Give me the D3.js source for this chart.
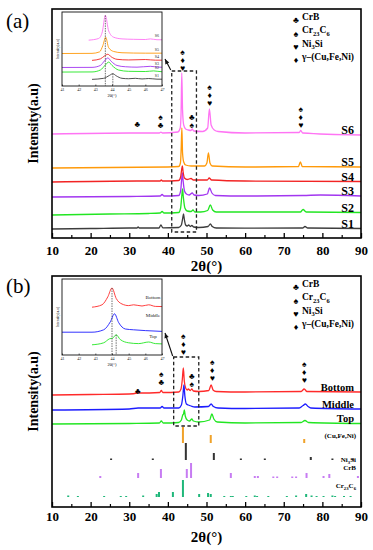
<!DOCTYPE html>
<html>
<head>
<meta charset="utf-8">
<script src="https://cdn.jsdelivr.net/npm/d3@7/dist/d3.min.js"></script>
<style>
  body { margin: 0; background: #fff; }
  svg { display: block; }
  text { font-family: 'Liberation Serif', 'Times New Roman', serif; }
</style>
</head>
<body>
<svg id="chart" width="373" height="550"></svg>
<script>
const xTicks = [10, 20, 30, 40, 50, 60, 70, 80, 90]
const xMinorTicks = [15, 25, 35, 45, 55, 65, 75, 85]
const insetTicks = [41, 42, 43, 44, 45, 46, 47]

const legendSymbols = ['♣', '♠', '♥', '♦']
const legendNames = ['CrB', 'Cr_{23}C_{6}', 'Ni_{3}Si', 'γ–(Cu,Fe,Ni)']

// panel (a): S1..S6, [2θ, intensity above its own baseline]
const seriesNamesA = ['S1', 'S2', 'S3', 'S4', 'S5', 'S6']
const seriesColorsA = ['#3d3d3d', '#22e622', '#a236f0', '#f22424', '#ff9a0a', '#ff74f4']
const stackOffsetA = [9, 23, 41, 56, 70, 104]
const insetOffsetA = [6, 13, 18, 25, 32, 45]

const s1 = [[10, 0], [20, 0.5], [30, 1], [32, 1], [32.3, 2], [32.6, 1], [37.7, 1], [38.2, 4], [38.7, 1.2],
  [42.8, 1.5], [43.5, 4], [43.85, 11], [44.05, 15], [44.25, 10], [44.6, 4], [45, 3], [45.4, 4], [45.8, 2.5],
  [46.2, 3.5], [46.7, 2], [48, 1.5], [50.4, 2.5], [51, 5], [51.5, 2.5], [52.5, 1], [60, 0.8], [74.9, 1],
  [75.5, 2.5], [76.2, 1], [90, 0.5]]
const s2 = [[10, 0], [25, 1], [35, 1.5], [38, 2], [38.5, 3.5], [39, 2], [42.8, 2.5], [43.3, 7], [43.6, 19],
  [43.8, 26], [44, 18], [44.4, 7], [45, 4], [46, 3.5], [46.5, 5], [47, 3], [48.5, 3], [50.3, 4.5], [51, 10],
  [51.6, 5], [52.5, 3], [60, 3], [74.3, 3], [75, 5.5], [75.8, 3], [90, 2.5]]
const s3 = [[10, 0], [30, 0.5], [38, 1], [38.5, 2.5], [39, 1], [42.8, 1.5], [43.3, 6], [43.55, 17], [43.75, 24],
  [43.95, 16], [44.3, 6], [44.8, 3], [45.5, 2], [46.3, 4], [46.8, 2], [48, 1.5], [50.2, 3], [50.8, 9], [51.4, 4],
  [52.3, 1.5], [60, 1], [75, 1.5], [79.5, 2], [90, 1]]
const s4 = [[10, 0], [32, 1], [38, 1], [38.3, 2], [38.6, 1], [42.8, 1.5], [43.3, 5], [43.55, 12], [43.75, 16],
  [43.95, 10], [44.3, 4], [45, 2.5], [46, 3.5], [46.6, 2], [47.5, 2], [50.2, 2], [50.7, 4], [51.3, 2], [60, 1],
  [90, 0.5]]
const s5 = [[10, 0], [40, 1], [42.8, 1.5], [43.25, 5], [43.45, 20], [43.62, 40], [43.8, 15], [44.1, 6], [44.6, 3],
  [46, 2], [49.5, 2], [50.1, 5], [50.5, 15], [50.9, 5], [51.5, 2], [60, 1], [73.8, 1.5], [74.3, 6], [74.8, 1.5],
  [90, 1]]
const s6 = [[10, 0], [30, 1], [37.8, 1], [38.2, 1.8], [38.6, 1], [42.6, 2], [43.2, 6], [43.42, 22], [43.6, 61],
  [43.8, 24], [44.1, 9], [44.6, 5], [45.3, 4], [46, 3.5], [46.3, 5], [46.7, 3], [49, 2.5], [50.3, 6], [50.75, 25],
  [51.2, 9], [52, 4], [53, 2.5], [60, 1], [74, 1.5], [74.4, 3.5], [74.9, 1], [90, -1]]
const seriesA = [s1, s2, s3, s4, s5, s6]

// phase marks above the peaks: 2θ, height of lowest symbol, symbols top to bottom
const peakMarksA = [
  { t: 32.1, v: 114, s: ['♣'] },
  { t: 38.1, v: 113, s: ['♠', '♣'] },
  { t: 43.8, v: 170, s: ['♠', '♦', '♥'] },
  { t: 46.2, v: 113, s: ['♣', '♠'] },
  { t: 50.8, v: 135, s: ['♠', '♦', '♥'] },
  { t: 74.4, v: 113, s: ['♠', '♦', '♥'] }
]

// panel (b): Bottom, Middle, Top
const seriesNamesB = ['Bottom', 'Middle', 'Top']
const seriesColorsB = ['#ff2a2a', '#1c1cff', '#22e622']
const stackOffsetB = [114, 98, 83]
const insetOffsetB = [47, 22, 9]

const bottomPat = [[10, -2], [20, -1.5], [30, -1], [32, 0], [32.3, 1.5], [32.6, 0], [37.9, 0.5], [38.3, 2.5],
  [38.7, 0.5], [42.8, 1], [43.4, 4], [43.75, 14], [44, 25], [44.25, 12], [44.6, 5], [45, 3], [45.3, 4],
  [45.8, 2.5], [46.2, 4], [46.6, 2], [48, 1.5], [50.6, 2.5], [51.2, 8], [51.7, 3], [52.5, 1.5], [60, 1],
  [74.5, 1.5], [75.3, 4], [76, 1.5], [90, 1]]
const middlePat = [[10, -1], [30, 0], [32.3, 1], [38, 1], [38.5, 2.5], [39, 1], [42.8, 1], [43.5, 4], [43.9, 14],
  [44.15, 24], [44.4, 13], [44.8, 5], [45.3, 4], [46, 3], [47, 2], [50.5, 2.5], [51.2, 5], [51.8, 2.5], [53, 1],
  [60, 0.5], [74, 1], [75, 3.5], [75.6, 5], [76.3, 2.5], [77, 1], [90, 0]]
const topPat = [[10, 0], [30, 0.5], [37.8, 1], [38.3, 3], [38.8, 1], [42.8, 1.5], [43.5, 4], [43.85, 9],
  [44.05, 10], [44.25, 14], [44.5, 8], [45, 4], [45.6, 3], [46.2, 5], [46.6, 3], [48, 2], [50.8, 4], [51.4, 10],
  [51.9, 5], [52.8, 2], [60, 1], [74.5, 1.5], [75.5, 3.5], [76.4, 1.5], [90, 0.5]]
const seriesB = [bottomPat, middlePat, topPat]

const peakMarksB = [
  { t: 32.2, v: 116, s: ['♣'] },
  { t: 38.3, v: 125, s: ['♠', '♣'] },
  { t: 44.0, v: 155, s: ['♠', '♦', '♥'] },
  { t: 46.2, v: 123, s: ['♣', '♠'] },
  { t: 51.5, v: 129, s: ['♠', '♦', '♥'] },
  { t: 75.3, v: 127, s: ['♠', '♦', '♥'] }
]

// reference stick patterns in panel (b)
const refNames = ['(Cu,Fe,Ni)', 'Ni_{3}Si', 'CrB', 'Cr_{23}C_{6}']
const refColors = ['#f0a22a', '#333333', '#c77cf2', '#1fb77a']
const refBase = [64, 47, 29, 10]
const cuFeNiSticks = [[43.9, 16], [51.1, 8], [75.3, 4]]
const ni3SiSticks = [[25.3, 1.5], [36.1, 1.5], [44.65, 17], [51.9, 7], [58.9, 1.5], [65.1, 1.5], [77, 3],
  [82.6, 1.5], [87.9, 1.5]]
const crBSticks = [[22.5, 2], [32.3, 5], [38.2, 9], [44.9, 9], [46, 15], [56.3, 5], [62.5, 2], [63.3, 2],
  [67.3, 1.5], [68.3, 1.5], [72.2, 1.5], [73.2, 1.5], [75.9, 5], [80.3, 2], [81.8, 4], [89.2, 2]]
const cr23C6Sticks = [[14.2, 1.5], [16.7, 1], [23.5, 1], [27.8, 1], [29.2, 1], [33.6, 1.5], [37.1, 3], [37.7, 5],
  [41.3, 5], [43.9, 17], [48.1, 3], [50.4, 4], [51.1, 3], [54.6, 1], [56.3, 1], [56.8, 1], [60.3, 1], [62.5, 1.5],
  [63.1, 1], [66, 1], [70.8, 1], [73.2, 1.5], [75.8, 3], [77.2, 1.5], [78.5, 1], [80.3, 1], [82.6, 1.5],
  [83.3, 1], [85.6, 1], [87.3, 1]]
const refSticks = [cuFeNiSticks, ni3SiSticks, crBSticks, cr23C6Sticks]

const panels = [
  {
    id: 'a', top: 9, bottom: 238, tag: '(a)', tagY: 21, tickPad: 8, titleY: 266, labelFont: 12,
    names: seriesNamesA, colors: seriesColorsA, offsets: stackOffsetA, data: seriesA, marks: peakMarksA,
    legendY: 20, zoomWin: [41.0, 47.4, 6, 167], arrowTip: [165, 59],
    inset: {
      x0: 62, x1: 162, top: 12, bottom: 86, offsets: insetOffsetA, gain: 0.42,
      labelX: 159, labelAnchor: 'end', labelLift: [2.5, 2.5, 2.5, 2.5, 2.5, 2.5], labelFont: 4,
      guides: [{ t: 43.6, s: 5 }, { t: 44.05, s: 0 }]
    }
  },
  {
    id: 'b', top: 276, bottom: 507, tag: '(b)', tagY: 286, tickPad: 5, titleY: 537, labelFont: 10.5,
    names: seriesNamesB, colors: seriesColorsB, offsets: stackOffsetB, data: seriesB, marks: peakMarksB,
    legendY: 287, zoomWin: [41.5, 48.0, 81, 150], arrowTip: [165, 333],
    inset: {
      x0: 62, x1: 162, top: 279, bottom: 355, offsets: insetOffsetB, gain: 0.8,
      labelX: 153, labelAnchor: 'middle', labelLift: [7, 14, 6], labelFont: 5,
      guides: [{ t: 44.0, s: 0 }, { t: 44.25, s: 2 }]
    },
    refs: true
  }
]

const svg = d3.select('#chart')
const x = d3.scaleLinear().domain([10, 90]).range([52, 361])

// text with _{...} subscripts
function richText(sel, str, size) {
  let shifted = false
  str.split(/(_\{[^}]*\})/).forEach((part) => {
    if (!part) return
    if (part.startsWith('_{')) {
      sel.append('tspan').attr('font-size', size * 0.68).attr('dy', shifted ? 0 : size * 0.28).text(part.slice(2, -1))
      shifted = true
    } else {
      sel.append('tspan').attr('dy', shifted ? -size * 0.28 : 0).text(part)
      shifted = false
    }
  })
}

function arrow(g, x1, y1, x2, y2) {
  g.append('line').attr('x1', x1).attr('y1', y1).attr('x2', x2).attr('y2', y2)
    .attr('stroke', '#111').attr('stroke-width', 1.1)
  const a = Math.atan2(y2 - y1, x2 - x1)
  const len = 5
  const w = 2.2
  const bx = x2 - len * Math.cos(a)
  const by = y2 - len * Math.sin(a)
  const pts = [[x2, y2], [bx + w * Math.sin(a), by - w * Math.cos(a)], [bx - w * Math.sin(a), by + w * Math.cos(a)]]
  g.append('polygon').attr('points', pts.map((p) => p.join(',')).join(' ')).attr('fill', '#111')
}

function drawPanel(p) {
  const y = d3.scaleLinear().domain([0, p.bottom - p.top]).range([p.bottom, p.top])
  const g = svg.append('g')
  const [x0, x1] = x.range()

  const line = (off) => d3.line()
    .x((d) => x(d[0]))
    .y((d) => y(off + d[1]))
    .curve(d3.curveMonotoneX)

  p.data.forEach((d, i) => {
    g.append('path')
      .datum(d)
      .attr('fill', 'none')
      .attr('stroke', p.colors[i])
      .attr('stroke-width', 1.3)
      .attr('d', line(p.offsets[i]))
    const last = d[d.length - 1]
    g.append('text')
      .attr('x', 354)
      .attr('y', y(p.offsets[i] + last[1]) - 5)
      .attr('dy', '0.35em')
      .attr('text-anchor', 'end')
      .attr('font-weight', 'bold')
      .attr('font-size', p.labelFont)
      .text(p.names[i])
  })

  if (p.refs) {
    refSticks.forEach((sticks, i) => {
      g.selectAll(null)
        .data(sticks)
        .join('rect')
        .attr('x', (d) => x(d[0]) - 1)
        .attr('width', 2)
        .attr('y', (d) => y(refBase[i] + d[1]))
        .attr('height', (d) => y(refBase[i]) - y(refBase[i] + d[1]))
        .attr('fill', refColors[i])
    })
    const refLift = [5, -2, 8, 9]
    refNames.forEach((name, i) => {
      const t = g.append('text')
        .attr('x', 356)
        .attr('y', y(refBase[i]) - refLift[i])
        .attr('dy', '0.35em')
        .attr('text-anchor', 'end')
        .attr('font-weight', 'bold')
        .attr('font-size', 7)
      richText(t, name, 7)
    })
  }

  // symbols over the peaks, one text per stack
  p.marks.forEach((m) => {
    const cx = x(m.t)
    const t = g.append('text')
      .attr('x', cx)
      .attr('y', y(m.v) - 8 * (m.s.length - 1))
      .attr('text-anchor', 'middle')
      .attr('font-family', 'DejaVu Sans')
      .attr('font-size', 8.5)
    m.s.forEach((sym, j) => {
      t.append('tspan')
        .attr('x', cx)
        .attr('dy', j === 0 ? '0.35em' : 8)
        .text(sym)
    })
  })

  // zoom window + arrow to the inset
  const w = p.zoomWin
  g.append('rect')
    .attr('x', x(w[0]))
    .attr('y', y(w[3]))
    .attr('width', x(w[1]) - x(w[0]))
    .attr('height', y(w[2]) - y(w[3]))
    .attr('fill', 'none')
    .attr('stroke', '#222')
    .attr('stroke-width', 1.3)
    .attr('stroke-dasharray', '3.5,2.5')
  arrow(g, x(w[0]) - 1, y(w[3]) - 1, p.arrowTip[0], p.arrowTip[1])

  // frame and axis
  g.append('rect')
    .attr('x', x0)
    .attr('y', p.top)
    .attr('width', x1 - x0)
    .attr('height', p.bottom - p.top)
    .attr('fill', 'none')
    .attr('stroke', '#000')
    .attr('stroke-width', 1.6)

  const axis = g.append('g')
    .attr('transform', `translate(0,${p.bottom})`)
    .call(d3.axisBottom(x).tickValues(xTicks).tickSize(-5).tickPadding(p.tickPad).tickFormat(d3.format('d')))
  axis.select('.domain').remove()
  axis.selectAll('line').attr('stroke-width', 1.3)
  axis.selectAll('text')
    .attr('font-family', "'Liberation Serif', serif")
    .attr('font-size', 13)
    .attr('font-weight', 'bold')
    .attr('fill', '#000')

  const minor = g.append('g')
    .attr('transform', `translate(0,${p.bottom})`)
    .call(d3.axisBottom(x).tickValues(xMinorTicks).tickSize(-3).tickFormat(''))
  minor.select('.domain').remove()
  minor.selectAll('line').attr('stroke-width', 1.2)

  g.append('text')
    .attr('x', (x0 + x1) / 2)
    .attr('y', p.titleY)
    .attr('dy', '0.35em')
    .attr('text-anchor', 'middle')
    .attr('font-weight', 'bold')
    .attr('font-size', 15)
    .text('2θ(°)')

  g.append('text')
    .attr('transform', `translate(33,${(p.top + p.bottom) / 2}) rotate(-90)`)
    .attr('dy', '0.35em')
    .attr('text-anchor', 'middle')
    .attr('font-weight', 'bold')
    .attr('font-size', 14)
    .text('Intensity(a.u)')

  g.append('text')
    .attr('x', 6)
    .attr('y', p.tagY)
    .attr('dy', '0.35em')
    .attr('font-size', 21)
    .text(p.tag)

  // legend
  legendSymbols.forEach((sym, i) => {
    const ly = p.legendY + i * 13.4
    g.append('text')
      .attr('x', 296)
      .attr('y', ly)
      .attr('dy', '0.35em')
      .attr('text-anchor', 'middle')
      .attr('font-family', 'DejaVu Sans')
      .attr('font-size', 9)
      .text(sym)
    const t = g.append('text')
      .attr('x', 302)
      .attr('y', ly)
      .attr('dy', '0.35em')
      .attr('font-weight', 'bold')
      .attr('font-size', 9.5)
    richText(t, legendNames[i], 9.5)
  })

  drawInset(g, p)
}

function drawInset(g, p) {
  const ins = p.inset
  const ix = d3.scaleLinear().domain([41, 47]).range([ins.x0, ins.x1])
  const iy = d3.scaleLinear().domain([0, ins.bottom - ins.top]).range([ins.bottom, ins.top])
  const clipId = `clip-${p.id}`

  g.append('defs').append('clipPath').attr('id', clipId)
    .append('rect')
    .attr('x', ins.x0)
    .attr('y', ins.top)
    .attr('width', ins.x1 - ins.x0)
    .attr('height', ins.bottom - ins.top)

  g.append('rect')
    .attr('x', ins.x0)
    .attr('y', ins.top)
    .attr('width', ins.x1 - ins.x0)
    .attr('height', ins.bottom - ins.top)
    .attr('fill', '#fff')

  const body = g.append('g').attr('clip-path', `url(#${clipId})`)
  p.data.forEach((d, i) => {
    const pts = d.filter((q) => q[0] >= 39 && q[0] <= 50)
    body.append('path')
      .datum(pts)
      .attr('fill', 'none')
      .attr('stroke', p.colors[i])
      .attr('stroke-width', 0.9)
      .attr('d', d3.line()
        .x((q) => ix(q[0]))
        .y((q) => iy(ins.offsets[i] + ins.gain * q[1]))
        .curve(d3.curveMonotoneX))
    const endV = pts.filter((q) => q[0] <= 47).pop()
    g.append('text')
      .attr('x', ins.labelX)
      .attr('y', iy(ins.offsets[i] + ins.gain * endV[1]) - ins.labelLift[i])
      .attr('text-anchor', ins.labelAnchor)
      .attr('font-size', ins.labelFont)
      .attr('fill', '#222')
      .text(p.names[i])
  })

  ins.guides.forEach((gd) => {
    const near = p.data[gd.s].filter((q) => Math.abs(q[0] - gd.t) < 0.3)
    const peak = d3.max(near, (q) => q[1])
    g.append('line')
      .attr('x1', ix(gd.t))
      .attr('x2', ix(gd.t))
      .attr('y1', iy(ins.offsets[gd.s] + ins.gain * peak))
      .attr('y2', ins.bottom)
      .attr('stroke', '#333')
      .attr('stroke-width', 0.7)
      .attr('stroke-dasharray', '1.5,1')
  })

  g.append('rect')
    .attr('x', ins.x0)
    .attr('y', ins.top)
    .attr('width', ins.x1 - ins.x0)
    .attr('height', ins.bottom - ins.top)
    .attr('fill', 'none')
    .attr('stroke', '#111')
    .attr('stroke-width', 0.9)

  const ax = g.append('g')
    .attr('transform', `translate(0,${ins.bottom})`)
    .call(d3.axisBottom(ix).tickValues(insetTicks).tickSize(-1.5).tickPadding(2.5).tickFormat(d3.format('d')))
  ax.select('.domain').remove()
  ax.selectAll('line').attr('stroke-width', 0.6)
  ax.selectAll('text')
    .attr('font-family', "'Liberation Serif', serif")
    .attr('font-size', 4)
    .attr('fill', '#222')

  g.append('text')
    .attr('x', (ins.x0 + ins.x1) / 2)
    .attr('y', ins.bottom + 11)
    .attr('text-anchor', 'middle')
    .attr('font-size', 4.5)
    .text('2θ(°)')

  g.append('text')
    .attr('transform', `translate(${ins.x0 - 3},${(ins.top + ins.bottom) / 2}) rotate(-90)`)
    .attr('text-anchor', 'middle')
    .attr('font-size', 3.8)
    .text('Intensity(a.u)')
}

panels.forEach(drawPanel)
</script>
</body>
</html>
